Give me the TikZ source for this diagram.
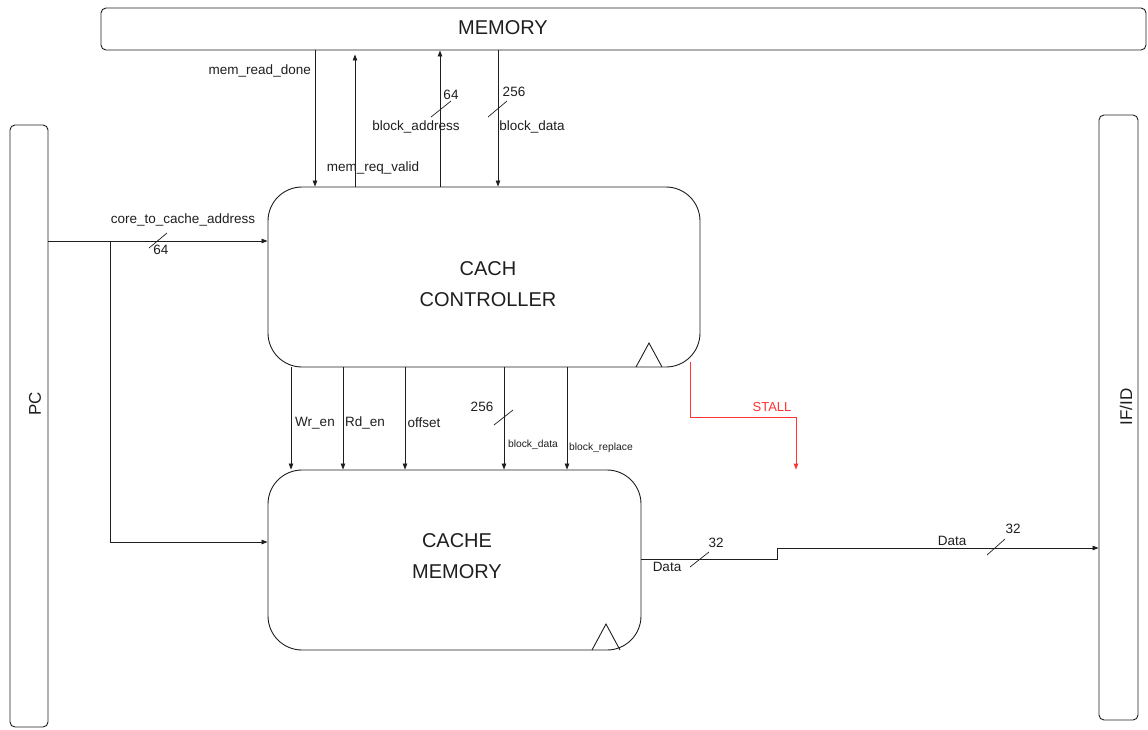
\documentclass[tikz,border=0pt]{standalone}
\usepackage{fontspec}
\setmainfont{Liberation Sans}
\usetikzlibrary{arrows.meta}
\definecolor{stallred}{RGB}{255,51,51}
\definecolor{ink}{RGB}{30,30,30}
\begin{document}
\begin{tikzpicture}[x=1pt,y=-1pt,
  box/.style={draw=ink,line width=0.9pt,rounded corners=#1,inner sep=0pt},
  lbl/.style={inner sep=0pt,font=\fontsize{13.5}{16}\selectfont,text=ink},
  smalllbl/.style={inner sep=0pt,font=\fontsize{10.3}{12}\selectfont,text=ink},
  biglbl/.style={inner sep=0pt,font=\fontsize{20}{31}\selectfont,align=center,text=ink},
  sidelbl/.style={inner sep=0pt,rotate=90,font=\fontsize{17}{20}\selectfont,text=ink},
  wire/.style={line width=0.8pt,draw=ink},
  arr/.style={wire,-{Triangle[length=6pt,width=4.5pt]}},
  busmark/.style={line width=0.7pt,draw=ink},
  stallwire/.style={line width=0.9pt,draw=stallred,-{Triangle[length=6pt,width=4.5pt]}}]
\useasboundingbox (0,0) rectangle (1148,729);

% blocks
\node[box=5pt,minimum width=1045pt,minimum height=42pt] (mem) at (623.5,29) {};
\node[biglbl] (memlbl) at (503,28) {MEMORY};
\node[box=5pt,minimum width=38pt,minimum height=602pt] (pc) at (29,426) {};
\node[sidelbl] (pclbl) at (35,404) {PC};
\node[box=5pt,minimum width=39pt,minimum height=605pt] (ifid) at (1118.5,417.5) {};
\node[sidelbl] (ifidlbl) at (1126,407) {IF/ID};
\node[box=34pt,minimum width=432pt,minimum height=180pt] (ctrl) at (484,277) {};
\node[biglbl] (ctrllbl) at (488,284) {CACH\\CONTROLLER};
\node[box=34pt,minimum width=373pt,minimum height=180pt] (cmem) at (454.5,560) {};
\node[biglbl] (cmemlbl) at (457,556) {CACHE\\MEMORY};

% clock triangles
\draw[line width=0.9pt,draw=ink] (636,367) -- (649,343) -- (662,367);
\draw[line width=0.9pt,draw=ink] (592,650) -- (606,624) -- (620,650);

% memory <-> controller
\draw[arr] (315,0 |- mem.south) -- (315,0 |- ctrl.north);
\draw[arr,shorten >=4pt] (355,0 |- ctrl.north) -- (355,0 |- mem.south);
\draw[arr] (440,0 |- ctrl.north) -- (440,0 |- mem.south);
\draw[arr] (498,0 |- mem.south) -- (498,0 |- ctrl.north);
\node[lbl,anchor=east] (lrd) at (311,71) {mem\_read\_done};
\node[lbl] (lrv) at (373,168) {mem\_req\_valid};
\node[lbl] (lba) at (416,127) {block\_address};
\node[lbl] (lba64) at (451,95) {64};
\node[lbl] (lbd) at (532,127) {block\_data};
\node[lbl] (lbd256) at (514,92) {256};
\draw[busmark] (431,117) -- (451,101);
\draw[busmark] (488,117) -- (507,101);

% PC -> controller and cache memory
\coordinate (br) at (110,241);
\draw[arr] (pc.east |- br) -- (ctrl.west |- br);
\draw[arr] (br) -- (110,542) -- (cmem.west |- 0,542);
\node[lbl] (lcore) at (183,220) {core\_to\_cache\_address};
\node[lbl] (lcore64) at (161,250) {64};
\draw[busmark] (149,248) -- (167,233);

% controller -> cache memory
\foreach \xx in {291,343,405,504,567}
  \draw[arr] (\xx,0 |- ctrl.south) -- (\xx,0 |- cmem.north);
\node[lbl] (lwr) at (315,423) {Wr\_en};
\node[lbl] (lrdn) at (365,423) {Rd\_en};
\node[lbl] (loff) at (424,423) {offset};
\node[lbl] (l256) at (482,407) {256};
\draw[busmark] (494,425) -- (513,410);
\node[smalllbl] (lbd2) at (533,445) {block\_data};
\node[smalllbl] (lbr) at (601,448) {block\_replace};

% stall
\draw[stallwire] ([yshift=5pt]690,0 |- ctrl.south) -- (690,417) -- (796,417) -- (796,0 |- cmem.north);
\node[lbl,text=stallred,font=\fontsize{13}{16}\selectfont] (lstall) at (772,407) {STALL};

% data out
\draw[arr] (cmem.east |- 0,559) -- (777,559) -- (777,548) -- (ifid.west |- 0,548);
\node[lbl] (ld1) at (667,567) {Data};
\node[lbl] (ld132) at (716,543) {32};
\draw[busmark] (690,567) -- (709,552);
\node[lbl] (ld2) at (952,541) {Data};
\node[lbl] (ld232) at (1013,529) {32};
\draw[busmark] (987,555) -- (1005,539);
\end{tikzpicture}
\end{document}
